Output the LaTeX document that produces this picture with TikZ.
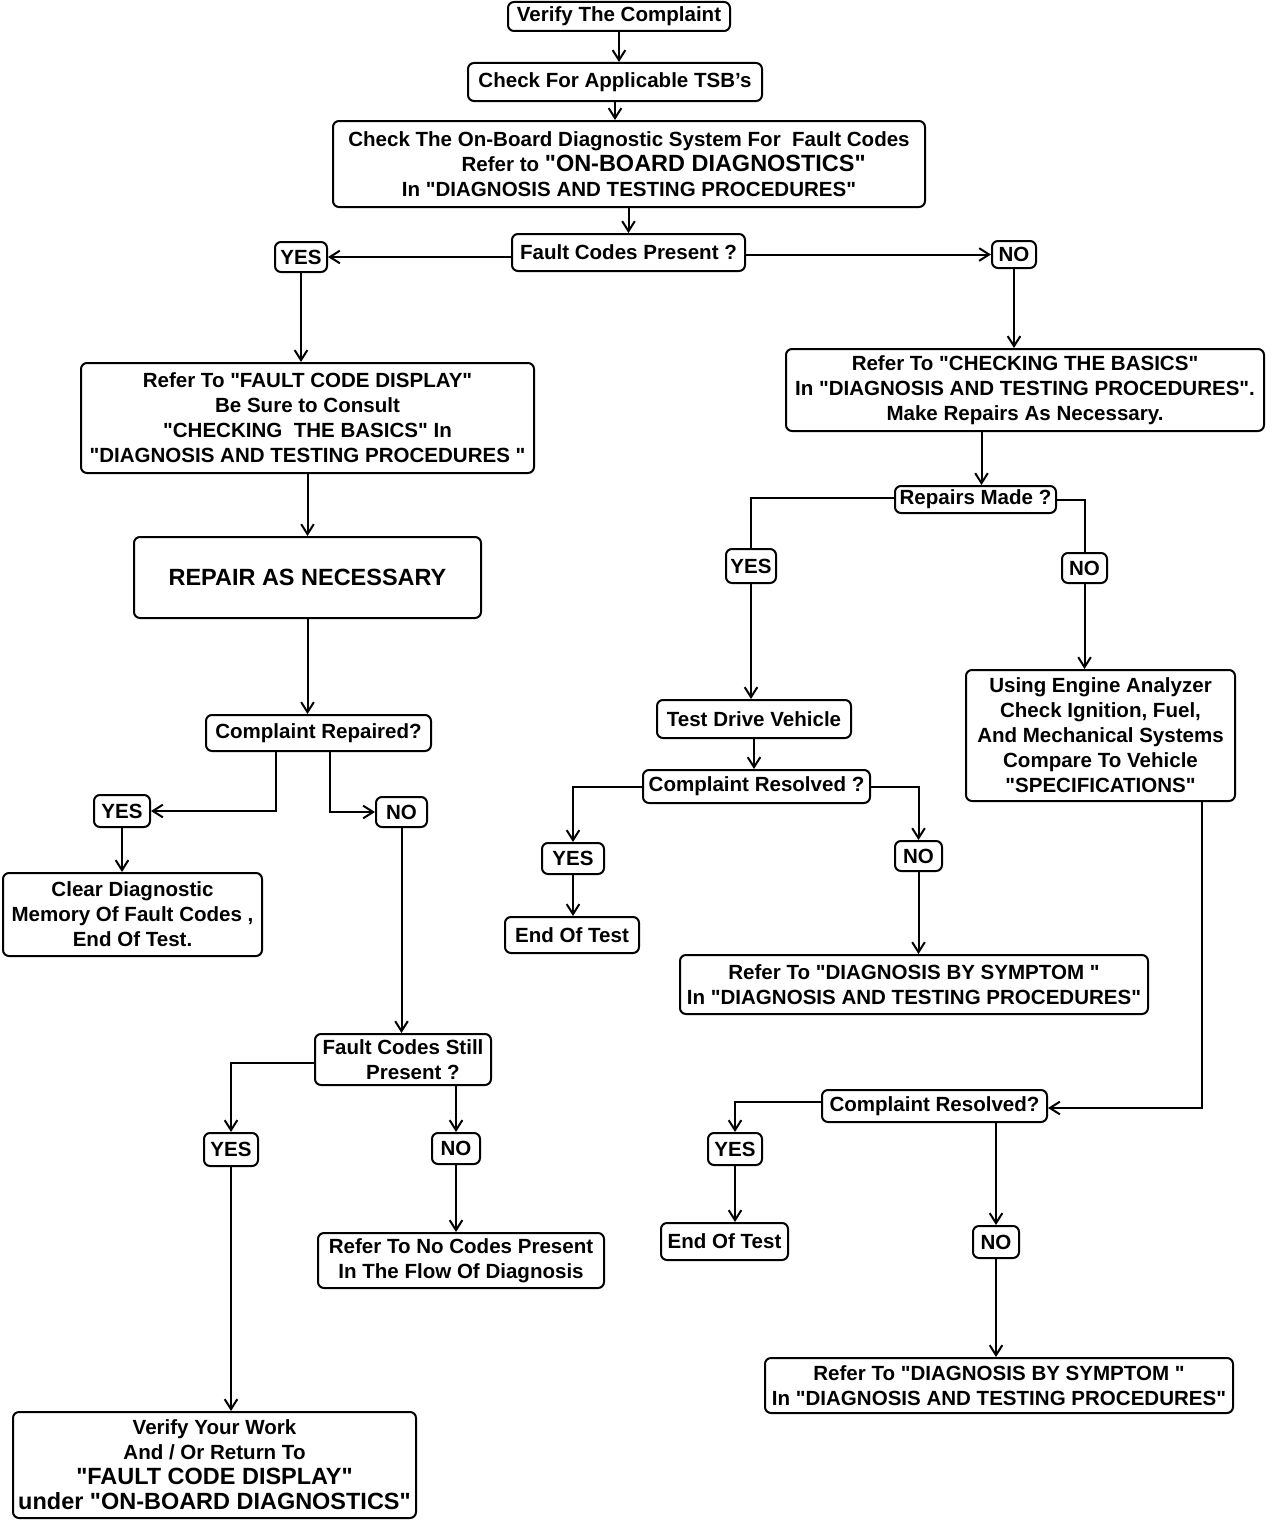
\documentclass[tikz,border=0pt]{standalone}
\usepackage{fontspec}
\setmainfont{Liberation Sans}[Ligatures=TeXOff]
\usetikzlibrary{arrows.meta,calc}
\newcommand\fcfont{\fontsize{15.4}{18.8}\selectfont\bfseries}
\newcommand\fcbig{\fontsize{17.6}{19}\selectfont}
\tikzset{
  box/.style={draw, line width=1.5pt, rounded corners=4.5pt, align=center, inner sep=0pt, font=\fcfont},
  sz/.style 2 args={minimum width=#1*0.75pt, minimum height=#2*0.75pt},
  line/.style={line width=1.5pt},
  arr/.style={line width=1.5pt, -{Straight Barb[length=7.5pt,width=9.5pt]}}
}
\begin{document}
\begin{tikzpicture}[x=0.75pt,y=-0.75pt]
\useasboundingbox (0,0) rectangle (1280,1520);
% top chain
\node[box,sz={222}{29}] (verify) at (619,16.5) {Verify The Complaint};
\node[box,sz={294}{38}] (tsb) at (615,82) {Check For Applicable TSB’s};
\node[box,sz={592}{86}] (obd) at (629,164) {Check The On-Board Diagnostic System For\ \ Fault Codes\\\hspace*{52pt}Refer to {\fcbig "ON-BOARD DIAGNOSTICS"}\\In "DIAGNOSIS AND TESTING PROCEDURES"};
\node[box,sz={233}{37}] (fcp) at (628.5,252.5) {Fault Codes Present ?};
\node[box,sz={52}{30}] (yes1) at (301,257) {YES};
\node[box,sz={44}{27}] (no1) at (1014,254.5) {NO};
% left branch
\node[box,sz={453}{110}] (fcd) at (307.5,418) {Refer To "FAULT CODE DISPLAY"\\Be Sure to Consult\\"CHECKING\ \ THE BASICS" In\\"DIAGNOSIS AND TESTING PROCEDURES "};
\node[box,sz={347}{81}] (repair) at (307.5,577.5) {\fcbig REPAIR AS NECESSARY};
\node[box,sz={225}{36}] (crep) at (318.5,733) {Complaint Repaired?};
\node[box,sz={56}{32}] (yes2) at (122,811) {YES};
\node[box,sz={51}{30}] (no2) at (401.5,812) {NO};
\node[box,sz={259}{83}] (clear) at (132.5,914.5) {Clear Diagnostic\\Memory Of Fault Codes ,\\End Of Test.};
\node[box,sz={176}{51}] (fcsp) at (403,1059.5) {Fault Codes Still\\\hspace*{15pt}Present ?};
\node[box,sz={54}{33}] (yes3) at (231,1149.5) {YES};
\node[box,sz={48}{31}] (no3) at (456,1148.5) {NO};
\node[box,sz={286}{55}] (nocodes) at (461,1260.5) {Refer To No Codes Present\\In The Flow Of Diagnosis};
\node[box,sz={403}{106}] (verifywork) at (214.5,1465) {Verify Your Work\\And / Or Return To\\{\fcbig "FAULT CODE DISPLAY"}\\{\fcbig under "ON-BOARD DIAGNOSTICS"}};
% right branch
\node[box,sz={478}{82}] (ctb) at (1025,390) {Refer To "CHECKING THE BASICS"\\In "DIAGNOSIS AND TESTING PROCEDURES".\\Make Repairs As Necessary.};
\node[box,sz={161}{27}] (rmade) at (975.5,499.5) {Repairs Made ?};
\node[box,sz={50}{34}] (yes4) at (751,566) {YES};
\node[box,sz={45}{30}] (no4) at (1084.5,568) {NO};
\node[box,sz={194}{38}] (tdv) at (754,719) {Test Drive Vehicle};
\node[box,sz={227}{33}] (cres1) at (756.5,786.5) {Complaint Resolved ?};
\node[box,sz={62}{31}] (yes5) at (573,858.5) {YES};
\node[box,sz={47}{30}] (no5) at (918.5,856) {NO};
\node[box,sz={134}{36}] (eot1) at (572,935) {End Of Test};
\node[box,sz={468}{59}] (dbs1) at (914,984.5) {Refer To "DIAGNOSIS BY SYMPTOM "\\In "DIAGNOSIS AND TESTING PROCEDURES"};
\node[box,sz={269}{131}] (engine) at (1100.5,735.5) {Using Engine Analyzer\\Check Ignition, Fuel,\\And Mechanical Systems\\Compare To Vehicle\\"SPECIFICATIONS"};
\node[box,sz={225}{32}] (cres2) at (934.5,1106) {Complaint Resolved?};
\node[box,sz={54}{32}] (yes6) at (735,1149) {YES};
\node[box,sz={46}{32}] (no6) at (996,1242) {NO};
\node[box,sz={127}{37}] (eot2) at (724.5,1241.5) {End Of Test};
\node[box,sz={468}{55}] (dbs2) at (999,1385.5) {Refer To "DIAGNOSIS BY SYMPTOM "\\In "DIAGNOSIS AND TESTING PROCEDURES"};
% helper coordinates
\coordinate (crepL) at ($(crep.south)+(-43,0)$);
\coordinate (crepR) at ($(crep.south)+(11,0)$);
\coordinate (fcspL) at ($(fcsp.west)+(0,3.5)$);
\coordinate (rmin) at ($(rmade.north)+(6,0)$);
\coordinate (rmL) at ($(rmade.west)+(0,-2)$);
\coordinate (ein) at ($(engine.south east)+(-34,0)$);
\coordinate (cr2in) at ($(cres2.east)+(0,2)$);
\coordinate (cr2L) at ($(cres2.west)+(0,-4)$);
% connectors
\draw[arr] (verify.south) -- (verify.south |- tsb.north);
\draw[arr] (tsb.south) -- (tsb.south |- obd.north);
\draw[arr] (obd.south -| fcp.north) -- (fcp.north);
\draw[arr] (fcp.west |- yes1) -- (yes1.east);
\draw[arr] (fcp.east |- no1) -- (no1.west);
\draw[arr] (yes1.south) -- (yes1.south |- fcd.north);
\draw[arr] (no1.south) -- (no1.south |- ctb.north);
\draw[arr] (fcd.south) -- (repair.north);
\draw[arr] (repair.south) -- (repair.south |- crep.north);
\draw[arr] (crepL) |- (yes2.east);
\draw[arr] (crepR) |- (no2.west);
\draw[arr] (yes2.south) -- (yes2.south |- clear.north);
\draw[arr] (no2.south) -- (no2.south |- fcsp.north);
\draw[arr] (fcspL) -| (yes3.north);
\draw[arr] (fcsp.south -| no3.north) -- (no3.north);
\draw[arr] (yes3.south) -- (yes3.south |- verifywork.north);
\draw[arr] (no3.south) -- (no3.south |- nocodes.north);
\draw[arr] (rmin |- ctb.south) -- (rmin);
\draw[line] (rmL) -| (yes4.north);
\draw[line] (rmade.east) -| (no4.north);
\draw[arr] (yes4.south) -- (yes4.south |- tdv.north);
\draw[arr] (no4.south) -- (no4.south |- engine.north);
\draw[arr] (tdv.south) -- (tdv.south |- cres1.north);
\draw[arr] (cres1.west) -| (yes5.north);
\draw[arr] (cres1.east) -| (no5.north);
\draw[arr] (yes5.south) -- (yes5.south |- eot1.north);
\draw[arr] (no5.south) -- (no5.south |- dbs1.north);
\draw[arr] (ein) |- (cr2in);
\draw[arr] (cr2L) -| (yes6.north);
\draw[arr] (cres2.south -| no6.north) -- (no6.north);
\draw[arr] (yes6.south) -- (yes6.south |- eot2.north);
\draw[arr] (no6.south) -- (no6.south |- dbs2.north);
\end{tikzpicture}
\end{document}
